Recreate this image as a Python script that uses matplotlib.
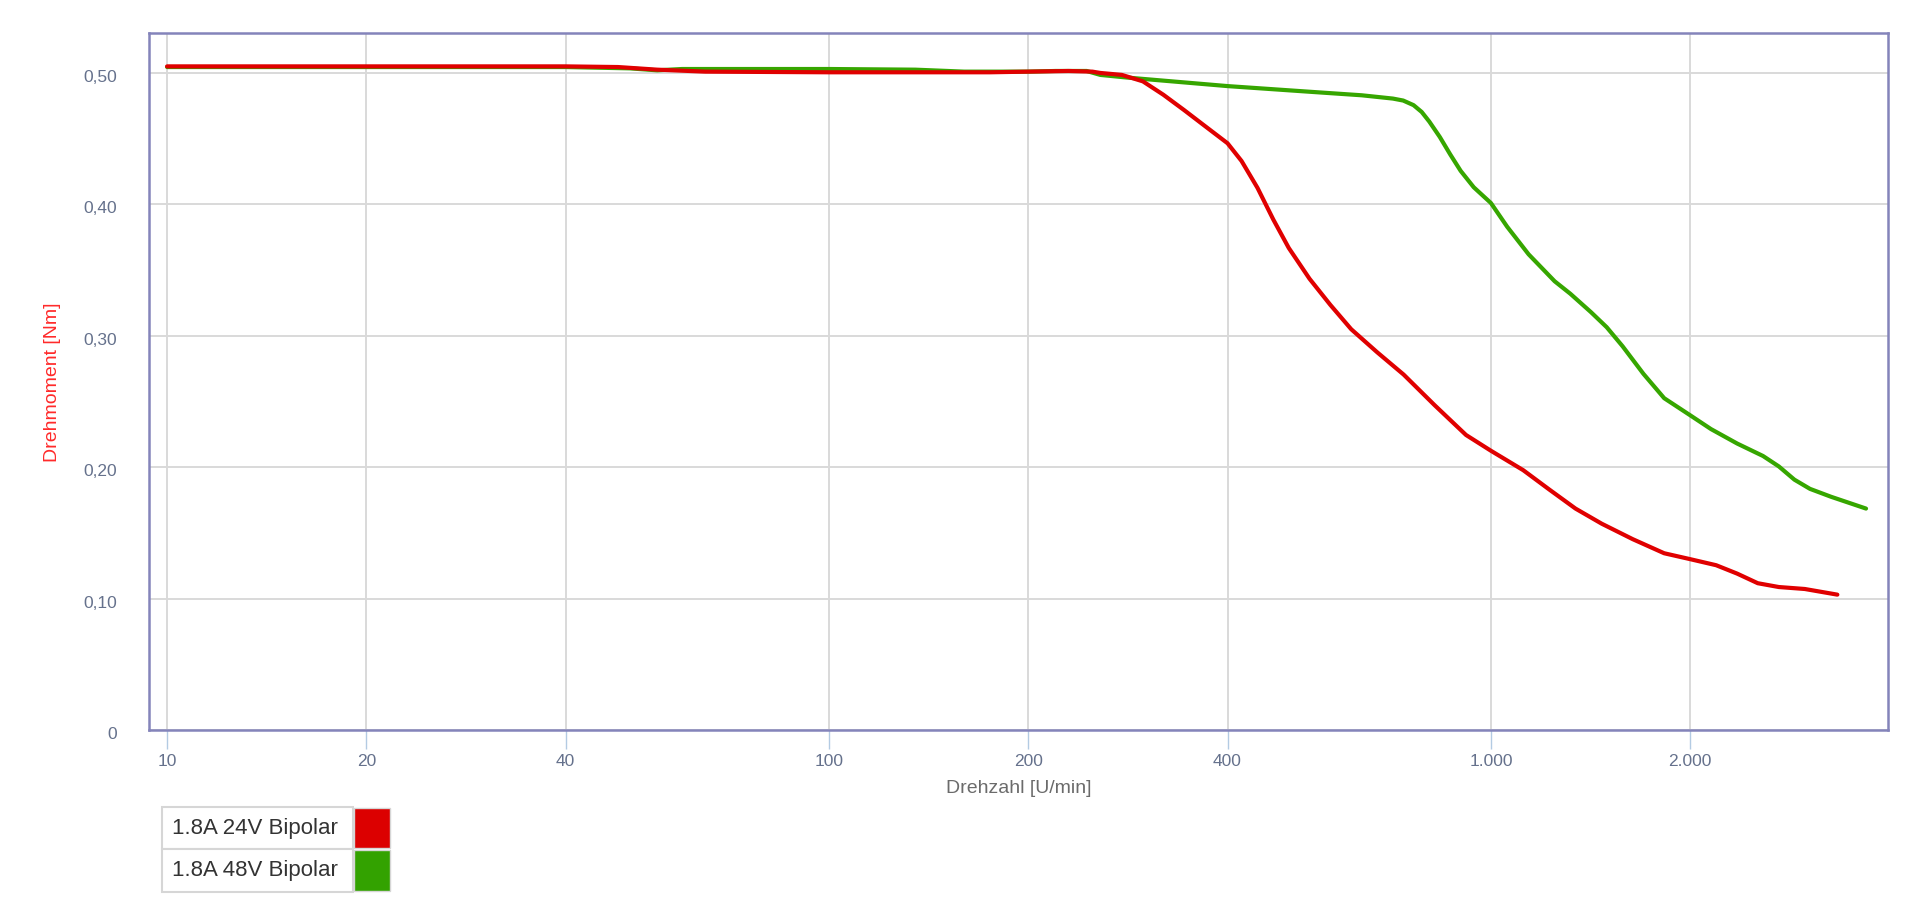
import matplotlib.pyplot as plt
from matplotlib.patches import Rectangle
from matplotlib.transforms import ScaledTranslation
from matplotlib.ticker import FixedLocator, NullLocator

plt.rcParams['font.family'] = ['Liberation Sans', 'DejaVu Sans']

# Drehmomentkurven (Drehzahl in U/min, Drehmoment in Nm)
rpm_24v = [10, 40, 48, 55, 65, 100, 140, 175, 200, 230, 250, 257, 277, 298, 320,
           344, 370, 400, 420, 444, 469, 495, 532, 572, 615, 673, 738, 822, 917,
           1000, 1119, 1225, 1342, 1470, 1638, 1827, 2000, 2189, 2355, 2530,
           2722, 2980, 3337]
torque_24v = [0.505, 0.505, 0.5045, 0.5025, 0.501, 0.5005, 0.5005, 0.5005, 0.501,
              0.5015, 0.501, 0.500, 0.4985, 0.4936, 0.4834, 0.4717, 0.4595, 0.4465,
              0.433, 0.4125, 0.3885, 0.3668, 0.3434, 0.3235, 0.305, 0.2875, 0.2705,
              0.2472, 0.2245, 0.2125, 0.1977, 0.183, 0.1685, 0.157, 0.1452, 0.1345,
              0.130, 0.1254, 0.119, 0.1117, 0.1088, 0.1073, 0.103]

rpm_48v = [10, 40, 50, 55, 60, 100, 135, 160, 200, 220, 245, 257, 282, 400, 532,
           638, 711, 737, 764, 786, 807, 837, 868, 900, 942, 1000, 1058, 1140,
           1248, 1318, 1416, 1496, 1581, 1700, 1827, 2000, 2150, 2355, 2577,
           2722, 2874, 3034, 3264, 3687]
torque_48v = [0.5045, 0.5045, 0.5035, 0.502, 0.503, 0.503, 0.5025, 0.501, 0.501,
              0.5015, 0.5015, 0.4985, 0.4965, 0.490, 0.4857, 0.483, 0.4805, 0.479,
              0.4755, 0.4703, 0.463, 0.4513, 0.438, 0.4255, 0.413, 0.401, 0.383,
              0.362, 0.3415, 0.332, 0.318, 0.3065, 0.292, 0.271, 0.2525, 0.2395,
              0.229, 0.218, 0.2085, 0.2006, 0.1905, 0.1835, 0.1775, 0.1685]

series_names = ["1.8A 24V Bipolar", "1.8A 48V Bipolar"]
line_colors = ["#e00000", "#36a600"]
swatch_colors = ["#dc0000", "#33a200"]

x_ticks = [10, 20, 40, 100, 200, 400, 1000, 2000]
x_tick_labels = ["10", "20", "40", "100", "200", "400", "1.000", "2.000"]
y_ticks = [0, 0.1, 0.2, 0.3, 0.4, 0.5]
y_tick_labels = ["0", "0,10", "0,20", "0,30", "0,40", "0,50"]

W, H = 1920, 922
fig = plt.figure(figsize=(W / 100, H / 100), dpi=100)
ax = fig.add_axes([149 / W, 1 - 730 / H, (1888 - 149) / W, (730 - 33) / H])

ax.plot(rpm_48v, torque_48v, color=line_colors[1], lw=3, solid_capstyle='round',
        solid_joinstyle='round', zorder=3)
ax.plot(rpm_24v, torque_24v, color=line_colors[0], lw=3, solid_capstyle='round',
        solid_joinstyle='round', zorder=4)

ax.set_xscale('log')
ax.set_xlim(9.39, 3980)
ax.set_ylim(0, 0.5304)

ax.xaxis.set_major_locator(FixedLocator(x_ticks))
ax.xaxis.set_minor_locator(NullLocator())
ax.set_xticklabels(x_tick_labels)
ax.set_yticks(y_ticks)
ax.set_yticklabels(y_tick_labels)

label_color = "#65718c"
ax.tick_params(axis='x', length=14, width=1, color="#b3cbe3", pad=3,
               labelsize=12.5, labelcolor=label_color)
ax.tick_params(axis='y', length=0, pad=23, labelsize=12.5, labelcolor=label_color)
for lbl in ax.get_yticklabels():
    lbl.set_transform(lbl.get_transform() + ScaledTranslation(0, -3 / 100, fig.dpi_scale_trans))

ax.grid(True, color="#d9d9d9", lw=1.4)
ax.set_axisbelow(True)
for sp in ax.spines.values():
    sp.set_color("#8484ba")
    sp.set_linewidth(1.8)

ax.set_xlabel("Drehzahl [U/min]", fontsize=14, color="#6b6b6b", labelpad=8)
fig.text(53 / W, 1 - 382 / H, "Drehmoment [Nm]", rotation=90, fontsize=14,
         color="#ff2a2a", ha='center', va='center')

# Legende als kleine Tabelle unter dem Diagramm
def fx(x):
    return x / W

def fy(y):
    return 1 - y / H

border = "#d6d6d6"
rows = [(807, 849), (849, 892)]
for (top, bottom), name, col in zip(rows, series_names, swatch_colors):
    fig.add_artist(Rectangle((fx(162), fy(bottom)), fx(353) - fx(162), fy(top) - fy(bottom),
                             transform=fig.transFigure, facecolor="white",
                             edgecolor=border, lw=1.5))
    fig.add_artist(Rectangle((fx(354), fy(bottom - 1)), fx(390) - fx(354), fy(top + 1) - fy(bottom - 1),
                             transform=fig.transFigure, facecolor=col,
                             edgecolor=border, lw=1.0))
    fig.text(fx(172), fy((top + bottom) / 2), name, fontsize=16, color="#333333",
             ha='left', va='center')

fig.savefig("out.png", dpi=100, facecolor="white")
